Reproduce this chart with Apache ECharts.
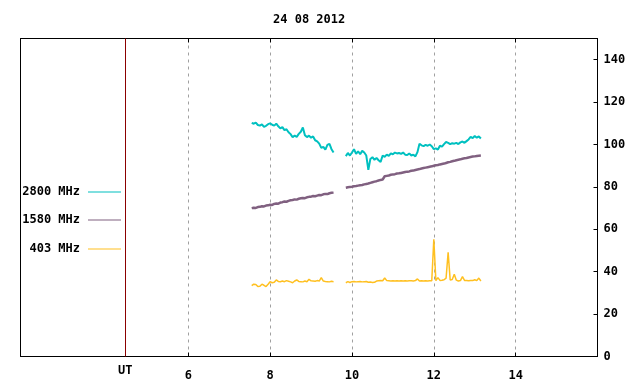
<!DOCTYPE html>
<html><head><meta charset="utf-8">
<script src="https://cdn.jsdelivr.net/npm/echarts@6/dist/echarts.min.js"></script>
<style>html,body{margin:0;padding:0;background:#fff}#c{width:640px;height:384px}</style>
</head><body><div id="c"></div>
<script>
const TITLE = '24 08 2012';
const SERIES_NAMES = ['2800 MHz', '1580 MHz', '403 MHz'];
const X_TICKS = [6, 8, 10, 12, 14];
const Y_TICKS = [0, 20, 40, 60, 80, 100, 120, 140];
const UT_POS = 4.46;
const UT_LABEL = 'UT';

const times1 = [7.55,7.60,7.65,7.70,7.75,7.80,7.85,7.90,7.95,8.00,8.05,8.10,8.15,8.20,8.25,8.30,8.35,8.40,8.45,8.50,8.55,8.60,8.65,8.70,8.75,8.80,8.85,8.90,8.95,9.00,9.05,9.10,9.15,9.20,9.25,9.30,9.35,9.40,9.45,9.50,9.55];
const times2 = [9.85,9.90,9.95,10.00,10.05,10.10,10.15,10.20,10.25,10.30,10.35,10.40,10.45,10.50,10.55,10.60,10.65,10.70,10.75,10.80,10.85,10.90,10.95,11.00,11.05,11.10,11.15,11.20,11.25,11.30,11.35,11.40,11.45,11.50,11.55,11.60,11.65,11.70,11.75,11.80,11.85,11.90,11.95,12.00,12.05,12.10,12.15,12.20,12.25,12.30,12.35,12.40,12.45,12.50,12.55,12.60,12.65,12.70,12.75,12.80,12.85,12.90,12.95,13.00,13.05,13.10,13.15];
const GAP_T = 9.7;

const mhz2800_a = [110.2,109.8,110.3,109.2,108.9,109.5,108.3,108.8,109.6,110.0,109.3,108.9,109.8,108.6,107.6,108.2,106.8,107.2,105.8,104.9,103.4,104.2,103.6,105.0,106.0,108.0,104.4,103.5,104.2,103.2,103.8,102.0,101.5,100.4,98.4,98.9,97.6,99.8,100.3,97.8,96.2];
const mhz2800_b = [94.5,96.0,94.8,96.2,97.8,95.6,96.8,95.4,97.0,96.2,94.8,88.0,93.2,94.0,92.8,93.6,92.6,91.8,94.8,94.2,95.2,94.6,95.8,95.4,96.2,95.8,96.0,95.6,96.2,95.2,95.0,95.8,94.8,95.2,94.4,96.4,100.4,99.6,99.2,99.8,99.4,100.0,99.2,97.8,98.2,97.6,99.4,99.0,100.2,101.2,100.8,100.2,100.6,100.4,100.8,100.2,101.0,101.4,100.8,101.6,102.4,103.6,103.0,104.0,103.2,103.8,102.8];

const mhz1580_a = [70.0,70.2,70.1,70.5,70.6,70.9,70.8,71.2,71.3,71.6,71.5,72.0,72.2,72.1,72.6,72.8,73.1,73.0,73.4,73.7,73.8,74.1,74.0,74.4,74.6,74.8,74.7,75.1,75.3,75.4,75.7,75.6,75.9,76.2,76.1,76.5,76.7,76.6,77.0,77.2,77.3];
const mhz1580_b = [79.6,79.8,80.0,80.1,80.3,80.4,80.6,80.8,80.9,81.2,81.4,81.6,81.9,82.2,82.5,82.7,83.0,83.3,83.5,85.0,85.2,85.4,85.7,85.9,86.0,86.3,86.4,86.6,86.8,87.0,87.2,87.3,87.6,87.7,88.0,88.2,88.4,88.7,88.9,89.1,89.3,89.5,89.7,90.0,90.2,90.3,90.6,90.8,91.0,91.3,91.6,91.8,92.1,92.3,92.6,92.8,93.0,93.3,93.5,93.6,93.9,94.1,94.3,94.4,94.6,94.7,94.8];

const mhz403_a = [33.4,34.1,34.0,33.0,33.1,34.1,33.6,33.0,34.1,35.3,34.8,35.0,36.1,35.4,35.3,35.6,35.3,35.8,35.5,35.2,34.8,35.6,36.1,35.4,35.3,35.2,35.6,35.3,36.4,35.7,35.6,35.5,35.8,35.6,37.2,35.6,35.4,35.3,35.2,35.5,35.3];
const mhz403_b = [34.8,35.3,34.9,35.3,35.4,35.2,35.3,35.4,35.2,35.3,35.4,35.0,35.1,34.9,35.0,35.6,35.7,35.8,35.7,37.0,35.8,35.7,35.6,35.7,35.6,35.7,35.6,35.7,35.6,35.7,35.6,35.7,35.7,35.6,35.8,36.6,35.6,35.7,35.6,35.7,35.6,35.7,35.7,55.3,35.8,37.2,35.9,36.0,36.2,37.0,49.2,36.1,36.3,38.8,36.0,35.6,35.8,37.7,35.9,35.8,35.7,35.9,35.8,36.2,35.8,37.0,35.6];

const COLORS = ['#00c0c0', '#806080', '#ffc020'];
const FONT = 'DejaVu Sans Mono';

function build(a, b) {
  const d = times1.map((t, i) => [t, a[i]]);
  d.push([GAP_T, '-']);
  return d.concat(times2.map((t, i) => [t, b[i]]));
}

const chart = echarts.init(document.getElementById('c'));
const txt = {color: '#000', fontFamily: FONT, fontWeight: 'bold', fontSize: 12};

const legendTops = [186, 214, 243];
const legends = SERIES_NAMES.map((n, i) => ({
  data: [n], right: 519, top: legendTops[i], orient: 'vertical', align: 'right',
  icon: 'rect', itemWidth: 33, itemHeight: 1, padding: 0, selectedMode: false,
  textStyle: Object.assign({padding: [0, 3, 0, 0]}, txt)
}));

const lineWidths = [2, 2.5, 1.5];
const datas = [build(mhz2800_a, mhz2800_b), build(mhz1580_a, mhz1580_b), build(mhz403_a, mhz403_b)];

const series = SERIES_NAMES.map((n, i) => ({
  name: n, type: 'line', data: datas[i], showSymbol: false, symbol: 'none',
  color: COLORS[i], lineStyle: {width: lineWidths[i], color: COLORS[i]},
  connectNulls: false, z: 3
}));
series[0].markLine = {
  silent: true, symbol: ['none', 'none'], animation: false,
  lineStyle: {color: '#8b0000', type: 'solid', width: 1},
  label: Object.assign({show: true, position: 'start', formatter: UT_LABEL, distance: 8}, txt),
  data: [{xAxis: UT_POS}]
};

chart.setOption({
  animation: false,
  backgroundColor: '#fff',
  title: {text: TITLE, left: 273, top: 14, padding: 0, textStyle: txt},
  legend: legends,
  grid: {left: 20.5, right: 42.5, top: 38.5, bottom: 27.5, show: true, borderColor: '#000', borderWidth: 1},
  xAxis: [{
    type: 'value', min: 1.9, max: 16, position: 'bottom',
    axisLine: {show: true, lineStyle: {color: '#000', width: 1}},
    axisTick: {show: true, inside: true, length: 4, customValues: X_TICKS, lineStyle: {color: '#000'}},
    axisLabel: Object.assign({customValues: X_TICKS, margin: 13}, txt),
    splitLine: {show: true, lineStyle: {color: '#a0a0a0', type: [3, 4], width: 1}}
  }, {
    type: 'value', min: 1.9, max: 16, position: 'top',
    axisLine: {show: true, lineStyle: {color: '#000', width: 1}},
    axisTick: {show: true, inside: true, length: 4, customValues: X_TICKS, lineStyle: {color: '#000'}},
    axisLabel: {show: false}, splitLine: {show: false}
  }],
  yAxis: {
    type: 'value', min: 0, max: 150, position: 'right',
    axisLine: {show: true, lineStyle: {color: '#000', width: 1}},
    axisTick: {show: true, inside: true, length: 4, customValues: Y_TICKS, lineStyle: {color: '#000'}},
    axisLabel: Object.assign({customValues: Y_TICKS, margin: 6}, txt),
    splitLine: {show: false}
  },
  series: series
});
</script></body></html>
